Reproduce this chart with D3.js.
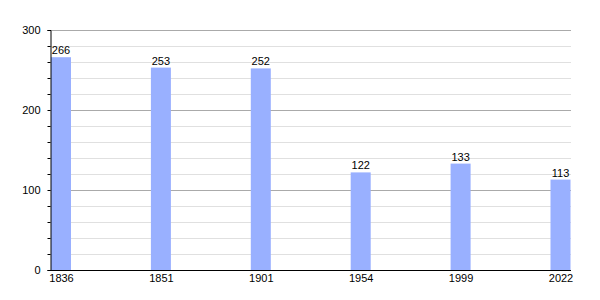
<!DOCTYPE html>
<html><head><meta charset="utf-8">
<script src="https://cdn.jsdelivr.net/npm/d3@7"></script>
<style>body{margin:0;background:#fff}</style>
</head><body>
<script>
const years = ["1836","1851","1901","1954","1999","2022"];
const population = [266,253,252,122,133,113];
const majorTicks = [0,100,200,300];
const minorTicks = d3.range(0,301,20);

const W=600,H=300;
const svg=d3.select("body").append("svg").attr("width",W).attr("height",H);
const x=d3.scalePoint().domain(years).range([61,560.5]);
const y=d3.scaleLinear().domain([0,300]).range([270,30]);
const barW=20;
const font="Liberation Sans, Arial, sans-serif";

// minor grid
svg.append("g").selectAll("line").data(minorTicks.filter(d=>d%100!==0)).join("line")
 .attr("x1",50).attr("x2",571).attr("y1",d=>Math.round(y(d))+0.5).attr("y2",d=>Math.round(y(d))+0.5)
 .attr("stroke","#e0e0e0").attr("stroke-width",1);
// major grid
svg.append("g").selectAll("line").data(majorTicks.filter(d=>d>0)).join("line")
 .attr("x1",50).attr("x2",571).attr("y1",d=>Math.round(y(d))+0.5).attr("y2",d=>Math.round(y(d))+0.5)
 .attr("stroke","#aaaaaa").attr("stroke-width",1);

// bars
svg.append("g").selectAll("rect").data(population).join("rect")
 .attr("x",(d,i)=>x(years[i])-barW/2).attr("width",barW)
 .attr("y",d=>y(d)).attr("height",d=>y(0)-y(d)).attr("fill","#99b0ff");

// value labels
svg.append("g").selectAll("text").data(population).join("text")
 .attr("x",(d,i)=>x(years[i])).attr("y",d=>y(d)-3).attr("text-anchor","middle")
 .attr("font-family",font).attr("font-size",11).attr("fill","#000").text(d=>d);

// y axis
const ya=d3.axisLeft(y).tickValues(minorTicks).tickSize(3).tickFormat(d=>majorTicks.includes(d)?d:"");
const gy=svg.append("g").attr("transform","translate(50.5,0)").call(ya);
gy.select(".domain").attr("stroke","#000");
gy.selectAll(".tick line").attr("stroke","#000");
gy.selectAll(".tick text").attr("font-family",font).attr("font-size",11).attr("fill","#000").attr("x",-10);

// x axis
const xa=d3.axisBottom(x).tickSize(0).tickPadding(4);
const gx=svg.append("g").attr("transform","translate(0,270.5)").call(xa);
gx.select(".domain").remove();
gx.selectAll(".tick text").attr("font-family",font).attr("font-size",11).attr("fill","#000");
svg.append("line").attr("x1",50).attr("x2",571).attr("y1",270.5).attr("y2",270.5).attr("stroke","#000");
</script>
</body></html>
